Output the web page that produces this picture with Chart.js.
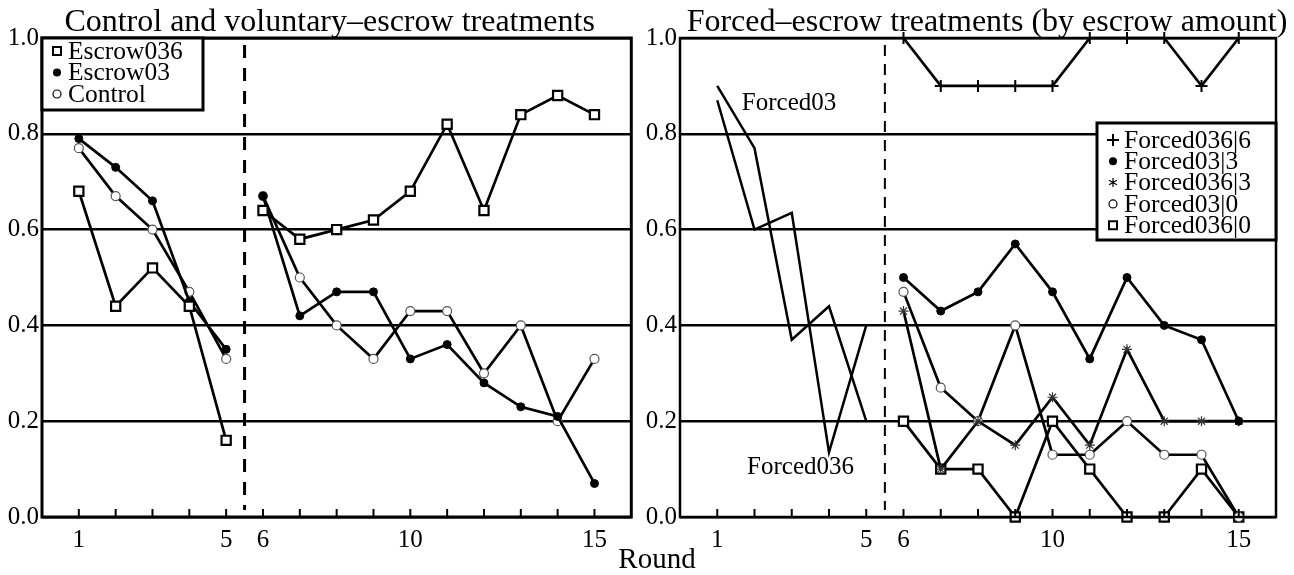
<!DOCTYPE html>
<html><head><meta charset="utf-8">
<script src="https://cdn.jsdelivr.net/npm/chart.js@4.4.1/dist/chart.umd.min.js"></script>
<style>
html,body{margin:0;padding:0;background:#fff;width:1294px;height:575px;overflow:hidden}
canvas{position:absolute;top:0}
#round{position:absolute;left:597px;width:120px;text-align:center;top:544px;font:29px/28px "Liberation Serif",serif;color:#000}
</style></head><body>
<canvas id="c1" width="640" height="575" style="left:0"></canvas>
<canvas id="c2" width="654" height="575" style="left:640px"></canvas>
<div id="round">Round</div>
<script>
// ---- data ----
const rounds = [1,2,3,4,5,6,7,8,9,10,11,12,13,14,15];
const xTickLabels = [1,5,6,10,15];
const yTicks = [0.0,0.2,0.4,0.6,0.8,1.0];
const escrow036 = [0.68,0.44,0.52,0.44,0.16, 0.64,0.58,0.60,0.62,0.68,0.82,0.64,0.84,0.88,0.84];
const escrow03  = [0.79,0.73,0.66,0.45,0.35, 0.67,0.42,0.47,0.47,0.33,0.36,0.28,0.23,0.21,0.07];
const control   = [0.77,0.67,0.60,0.47,0.33, 0.67,0.50,0.40,0.33,0.43,0.43,0.30,0.40,0.20,0.33];

const roundsEarly = [1,2,3,4,5];
const forced03  = [0.90,0.77,0.37,0.44,0.20];
const forced036 = [0.87,0.60,0.635,0.135,0.40];
const roundsLate = [6,7,8,9,10,11,12,13,14,15];
const forced036_6 = [1.00,0.90,0.90,0.90,0.90,1.00,1.00,1.00,0.90,1.00];
const forced03_3  = [0.50,0.43,0.47,0.57,0.47,0.33,0.50,0.40,0.37,0.20];
const forced036_3 = [0.43,0.10,0.20,0.15,0.25,0.15,0.35,0.20,0.20,0.20];
const forced03_0  = [0.47,0.27,0.20,0.40,0.13,0.13,0.20,0.13,0.13,0.00];
const forced036_0 = [0.20,0.10,0.10,0.00,0.20,0.10,0.00,0.00,0.10,0.00];

// ---- helpers ----
const SERIF = '"Liberation Serif", "DejaVu Serif", serif';
Chart.defaults.color = '#000';
Chart.defaults.font.family = SERIF;

function pts(rs, vals){
  const out = [];
  rs.forEach((r,i)=>{ if(i>0 && rs[i-1]===5 && r===6) out.push({x:5.5,y:null}); out.push({x:r,y:vals[i]}); });
  return out;
}
const styles = {
  square: {pointStyle:'rect', pointRadius:6.5, pointBorderWidth:2.2, pointBackgroundColor:'#fff', pointBorderColor:'#000'},
  dot:    {pointStyle:'circle', pointRadius:4, pointBorderWidth:1, pointBackgroundColor:'#000', pointBorderColor:'#000'},
  ring:   {pointStyle:'circle', pointRadius:4.5, pointBorderWidth:1.2, pointBackgroundColor:'#fff', pointBorderColor:'#555'},
  plus:   {pointStyle:'cross', pointRadius:6, pointBorderWidth:2, pointBackgroundColor:'#000', pointBorderColor:'#000'},
  star:   {pointStyle:'star', pointRadius:5, pointBorderWidth:1.2, pointBackgroundColor:'#000', pointBorderColor:'#333'}
};
function ds(label, data, st){
  return Object.assign({label, data, borderColor:'#000', borderWidth:2.7, tension:0, spanGaps:false, clip:false, legend:true, mark:st}, styles[st]);
}
function drawMark(ctx, st, x, y){
  ctx.save();
  ctx.strokeStyle = '#000'; ctx.fillStyle = '#000';
  ctx.beginPath();
  if(st==='square'){ ctx.lineWidth=2; ctx.fillStyle='#fff'; ctx.rect(x-4,y-4,8,8); ctx.fill(); ctx.stroke(); }
  else if(st==='dot'){ ctx.arc(x,y,4,0,Math.PI*2); ctx.fill(); }
  else if(st==='ring'){ ctx.lineWidth=1.2; ctx.arc(x,y,4,0,Math.PI*2); ctx.stroke(); }
  else if(st==='plus'){ ctx.lineWidth=2; ctx.moveTo(x-6,y); ctx.lineTo(x+6,y); ctx.moveTo(x,y-6); ctx.lineTo(x,y+6); ctx.stroke(); }
  else if(st==='star'){ ctx.lineWidth=1.2; for(let k=0;k<3;k++){ const a=Math.PI/2+k*Math.PI/3; ctx.moveTo(x-4.5*Math.cos(a),y-4.5*Math.sin(a)); ctx.lineTo(x+4.5*Math.cos(a),y+4.5*Math.sin(a)); } ctx.stroke(); }
  ctx.restore();
}

const decor = {
  id:'decor',
  beforeDatasetsDraw(chart, args, o){
    const {ctx, chartArea:a, scales:{x,y}} = chart;
    ctx.save();
    const xd = x.getPixelForValue(5.5);
    ctx.strokeStyle='#000'; ctx.lineWidth=o.dashWidth; ctx.setLineDash(o.dash);
    ctx.beginPath(); ctx.moveTo(xd, a.top+7); ctx.lineTo(xd, a.bottom-7); ctx.stroke();
    ctx.setLineDash([]);
    ctx.restore();
  },
  afterDatasetsDraw(chart, args, o){
    const {ctx, chartArea:a, scales:{x,y}} = chart;
    ctx.save();
    ctx.strokeStyle='#000'; ctx.lineWidth=2;
    rounds.forEach(r=>{ const px=x.getPixelForValue(r); ctx.beginPath(); ctx.moveTo(px,a.bottom); ctx.lineTo(px,a.bottom-8); ctx.stroke(); });
    ctx.lineWidth=o.frameWidth; ctx.strokeRect(a.left,a.top,a.right-a.left,a.bottom-a.top);
    ctx.fillStyle='#000'; ctx.font='32px '+SERIF; ctx.textAlign='center'; ctx.textBaseline='alphabetic';
    ctx.fillText(o.title, (a.left+a.right)/2 + o.titleShift, 31);
    ctx.font='25px '+SERIF; ctx.textAlign='left'; ctx.textBaseline='middle';
    (o.notes||[]).forEach(n=>ctx.fillText(n.text, x.getPixelForValue(n.x), y.getPixelForValue(n.y)));
    const L=o.legend;
    ctx.fillStyle='#fff'; ctx.fillRect(L.box[0],L.box[1],L.box[2]-L.box[0],L.box[3]-L.box[1]);
    ctx.lineWidth=3; ctx.strokeStyle='#000'; ctx.strokeRect(L.box[0],L.box[1],L.box[2]-L.box[0],L.box[3]-L.box[1]);
    ctx.fillStyle='#000'; ctx.font='25.5px '+SERIF; ctx.textBaseline='middle'; ctx.textAlign='left';
    const items = chart.data.datasets.filter(d=>d.legend);
    items.forEach((d,i)=>{
      const yy = L.y0 + i*L.dy;
      drawMark(ctx, d.mark, L.mx, yy);
      ctx.fillStyle='#000';
      ctx.fillText(d.label, L.tx, yy+1);
    });
    ctx.restore();
  }
};

function makeOpts(yw, padRight, o){
  return {
    responsive:false, animation:false, devicePixelRatio:1,
    layout:{padding:{left:0, top:38, right:padRight, bottom:0}},
    plugins:{legend:{display:false}, tooltip:{enabled:false}, title:{display:false}, decor:o},
    scales:{
      x:{type:'linear', min:0, max:16, afterFit:s=>{s.height=58;},
         grid:{display:false, drawTicks:false}, border:{display:false},
         afterBuildTicks:s=>{ s.ticks = rounds.map(v=>({value:v})); },
         ticks:{autoSkip:false, maxRotation:0, padding:8, font:{size:25, family:SERIF}, color:'#000',
                callback:v=> xTickLabels.includes(v) ? String(v) : ''}},
      y:{type:'linear', min:0, max:1, afterFit:s=>{s.width=yw;},
         afterBuildTicks:s=>{ s.ticks = yTicks.map(v=>({value:v})); },
         grid:{color:'#000', lineWidth:2.4, drawTicks:false}, border:{display:false},
         ticks:{padding:3, font:{size:25, family:SERIF}, color:'#000', callback:v=>Number(v).toFixed(1)}}
    }
  };
}

new Chart(document.getElementById('c1'), {
  type:'line',
  data:{datasets:[
    ds('Escrow036', pts(rounds, escrow036), 'square'),
    ds('Escrow03', pts(rounds, escrow03), 'dot'),
    ds('Control', pts(rounds, control), 'ring')
  ]},
  options: makeOpts(42, 2, {
    title:'Control and voluntary\u2013escrow treatments', titleShift:-7,
    dashWidth:3, dash:[13,10], frameWidth:3,
    legend:{box:[42,38,203,110], mx:57, tx:68, y0:51, dy:21.5}
  }),
  plugins:[decor]
});

const early = (label, vals) => ({label, data: roundsEarly.map((r,i)=>({x:r,y:vals[i]})), borderColor:'#000', borderWidth:2.5, pointRadius:0, tension:0, clip:false, legend:false});
new Chart(document.getElementById('c2'), {
  type:'line',
  data:{datasets:[
    early('Forced03', forced03),
    early('Forced036', forced036),
    ds('Forced036|6', roundsLate.map((r,i)=>({x:r,y:forced036_6[i]})), 'plus'),
    ds('Forced03|3', roundsLate.map((r,i)=>({x:r,y:forced03_3[i]})), 'dot'),
    ds('Forced036|3', roundsLate.map((r,i)=>({x:r,y:forced036_3[i]})), 'star'),
    ds('Forced03|0', roundsLate.map((r,i)=>({x:r,y:forced03_0[i]})), 'ring'),
    ds('Forced036|0', roundsLate.map((r,i)=>({x:r,y:forced036_0[i]})), 'square')
  ]},
  options: makeOpts(40, 18, {
    title:'Forced\u2013escrow treatments (by escrow amount)', titleShift:9,
    dashWidth:2, dash:[11,8], frameWidth:2.5,
    legend:{box:[457,123,636,240], mx:473, tx:484, y0:140, dy:21.3},
    notes:[{text:'Forced03', x:1.66, y:0.864},{text:'Forced036', x:1.8, y:0.104}]
  }),
  plugins:[decor]
});
</script>
</body></html>
